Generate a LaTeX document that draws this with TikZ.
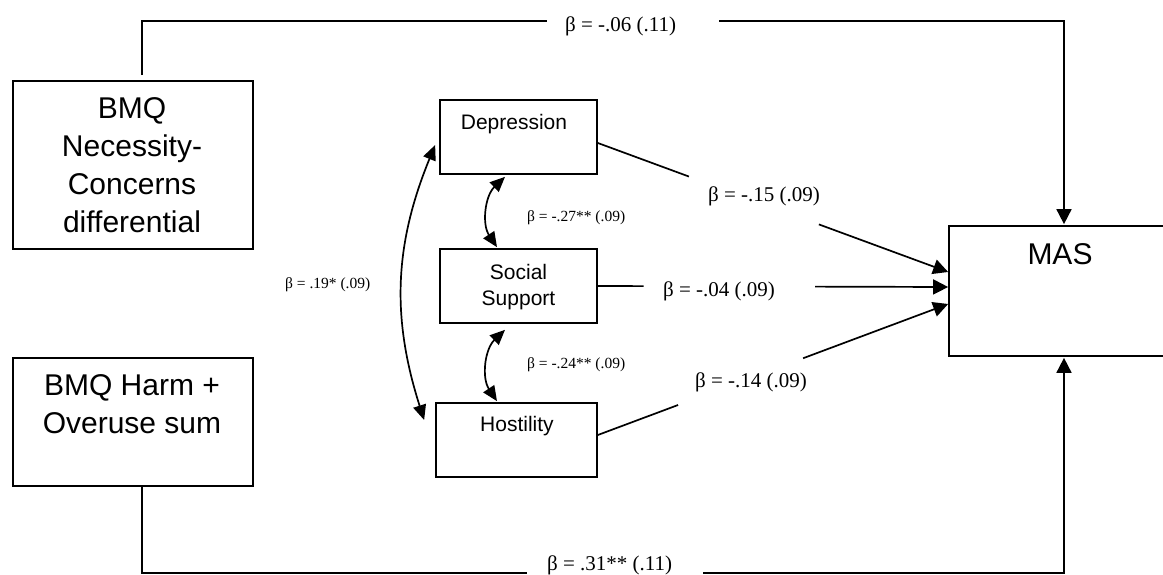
\documentclass[tikz,border=0pt]{standalone}
\usepackage{fontspec}
\setmainfont{Liberation Serif}
\newfontfamily\arialfont{Liberation Sans}
\usetikzlibrary{arrows.meta,calc}

\begin{document}
\begin{tikzpicture}[x=1pt,y=-1pt,
  box/.style={draw, line width=1.7pt, inner sep=0pt},
  big/.style={font=\arialfont\fontsize{30}{38}\selectfont, align=center, inner sep=0pt, anchor=north},
  mid/.style={font=\arialfont\fontsize{21}{26}\selectfont, align=center, inner sep=0pt, anchor=north},
  coef/.style={font=\fontsize{21}{24}\selectfont, inner sep=0pt, anchor=base west},
  coefsm/.style={font=\fontsize{15.5}{18}\selectfont, inner sep=0pt, anchor=base west},
  conn/.style={line width=1.7pt},
  tip/.style={-{Triangle[length=15pt,width=15pt]}},
  dtip/.style={{Triangle[length=15pt,width=13pt]}-{Triangle[length=15pt,width=13pt]}},
]
\useasboundingbox (0,0) rectangle (1163,575);
\clip (0,0) rectangle (1163,575);

% predictors
\node[box, minimum width=240pt, minimum height=168pt] (nec) at (133,165) {};
\node[big] (necT) at ([xshift=-1pt,yshift=-17.5pt]nec.north) {BMQ\\Necessity-\\Concerns\\differential};
\node[box, minimum width=240pt, minimum height=128pt] (harm) at (133,422) {};
\node[big] (harmT) at ([xshift=-1pt,yshift=-17.5pt]harm.north) {BMQ Harm +\\Overuse sum};

% mediators
\node[box, minimum width=157pt, minimum height=74pt] (dep) at (518.5,137) {};
\node[mid] (depT) at ([xshift=-4.5pt,yshift=-15pt]dep.north) {Depression};
\node[box, minimum width=157pt, minimum height=74pt] (soc) at (518.5,286) {};
\node[mid] (socT) at ([yshift=-16pt]soc.north) {Social\\Support};
\node[box, minimum width=161pt, minimum height=74pt] (hos) at (516.5,440) {};
\node[mid] (hosT) at ([xshift=0.5pt,yshift=-14pt]hos.north) {Hostility};

% outcome (runs off the right edge)
\node[box, minimum width=230pt, minimum height=130pt] (mas) at (1064,291) {};
\node[big] (masT) at ([xshift=-4pt,yshift=-18pt]mas.north) {MAS};

% direct path from the necessity-concerns differential
\coordinate (tA) at (547,21);
\coordinate (tB) at (719,21);
\draw[conn] ([xshift=9pt,yshift=5pt]nec.north) |- (tA);
\draw[conn,tip] (tB) -| ([yshift=1pt]mas.north);
\node[coef] (lTop) at (565,32) {β = -.06 (.11)};

% direct path from harm + overuse
\coordinate (bA) at (527,573);
\coordinate (bB) at (703,573);
\draw[conn] ([xshift=9pt]harm.south) |- (bA);
\draw[conn,tip] (bB) -| ([yshift=-1pt]mas.south);
\node[coef] (lBot) at (547,570) {β = .31** (.11)};

% mediator paths into MAS
\coordinate (inD) at ([yshift=19pt]mas.west);
\coordinate (inS) at ([yshift=4pt]mas.west);
\coordinate (inH) at ([yshift=-13pt]mas.west);
\coordinate (outD) at ([yshift=-6pt]dep.east);
\coordinate (outS) at (soc.east);
\coordinate (outH) at ([yshift=5pt]hos.east);

\draw[conn] (outD) -- ($(outD)!0.26!(inD)$);
\draw[conn,tip] ($(outD)!0.631!(inD)$) -- (inD);
\node[coef] (lD) at (708,202) {β = -.15 (.09)};

\draw[conn] (outS) -- ($(outS)!0.131!(inS)$);
\draw[conn,tip] ($(outS)!0.62!(inS)$) -- (inS);
\node[coef] (lS) at (663,296) {β = -.04 (.09)};

\draw[conn] (outH) -- ($(outH)!0.229!(inH)$);
\draw[conn,tip] ($(outH)!0.586!(inH)$) -- (inH);
\node[coef] (lH) at (695,387) {β = -.14 (.09)};

% correlations among mediators
\draw[conn,dtip] ([xshift=-4pt,yshift=-8pt]dep.west) to[bend right=20] ([xshift=-11pt,yshift=20pt]hos.west);
\node[coefsm] (lDH) at (285,288) {β = .19* (.09)};

\draw[conn,dtip] ([xshift=-13.5pt,yshift=-2pt]dep.south) to[bend right=40] ([xshift=-21.5pt,yshift=1pt]soc.north);
\node[coefsm] (lDS) at (527,222) {β = -.27** (.09)};

\draw[conn,dtip] ([xshift=-13.5pt,yshift=-6pt]soc.south) to[bend right=40] ([xshift=-19.5pt,yshift=1pt]hos.north);
\node[coefsm] (lSH) at (527,368) {β = -.24** (.09)};
\end{tikzpicture}
\end{document}
